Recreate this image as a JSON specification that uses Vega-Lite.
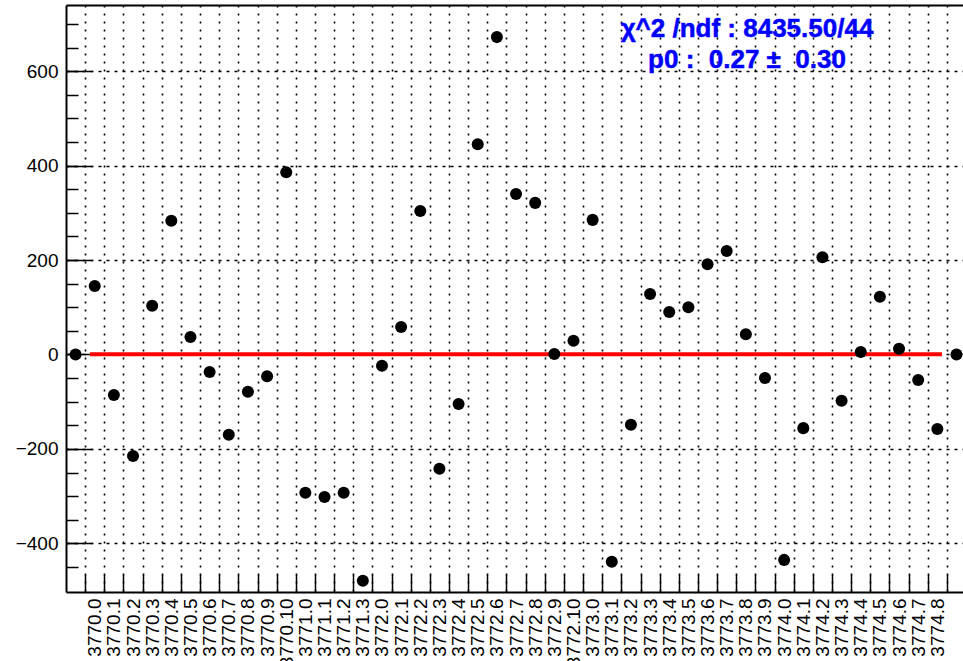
{
  "$schema": "https://vega.github.io/schema/vega-lite/v6.json",
  "width": 897,
  "height": 587,
  "autosize": {"type": "none"},
  "padding": {"left": 66, "top": 5, "right": 0, "bottom": 69},
  "background": "white",
  "config": {
    "view": {"stroke": null},
    "axis": {
      "labelFont": "Liberation Sans",
      "labelFontSize": 19,
      "labelColor": "black",
      "domainColor": "black",
      "tickColor": "black",
      "gridColor": "black",
      "gridOpacity": 1,
      "title": null
    }
  },
  "datasets": {
    "points": [
      {"i": 0, "run": "", "y": 0},
      {"i": 1, "run": "3770.0", "y": 145},
      {"i": 2, "run": "3770.1", "y": -86},
      {"i": 3, "run": "3770.2", "y": -215},
      {"i": 4, "run": "3770.3", "y": 103},
      {"i": 5, "run": "3770.4", "y": 283},
      {"i": 6, "run": "3770.5", "y": 37},
      {"i": 7, "run": "3770.6", "y": -37},
      {"i": 8, "run": "3770.7", "y": -170},
      {"i": 9, "run": "3770.8", "y": -79},
      {"i": 10, "run": "3770.9", "y": -46},
      {"i": 11, "run": "3770.10", "y": 386},
      {"i": 12, "run": "3771.0", "y": -293},
      {"i": 13, "run": "3771.1", "y": -302},
      {"i": 14, "run": "3771.2", "y": -293},
      {"i": 15, "run": "3771.3", "y": -479},
      {"i": 16, "run": "3772.0", "y": -24},
      {"i": 17, "run": "3772.1", "y": 58},
      {"i": 18, "run": "3772.2", "y": 304},
      {"i": 19, "run": "3772.3", "y": -242},
      {"i": 20, "run": "3772.4", "y": -105},
      {"i": 21, "run": "3772.5", "y": 445},
      {"i": 22, "run": "3772.6", "y": 672},
      {"i": 23, "run": "3772.7", "y": 340},
      {"i": 24, "run": "3772.8", "y": 321},
      {"i": 25, "run": "3772.9", "y": 1},
      {"i": 26, "run": "3772.10", "y": 29},
      {"i": 27, "run": "3773.0", "y": 285},
      {"i": 28, "run": "3773.1", "y": -439},
      {"i": 29, "run": "3773.2", "y": -149},
      {"i": 30, "run": "3773.3", "y": 128},
      {"i": 31, "run": "3773.4", "y": 90},
      {"i": 32, "run": "3773.5", "y": 100},
      {"i": 33, "run": "3773.6", "y": 191},
      {"i": 34, "run": "3773.7", "y": 219},
      {"i": 35, "run": "3773.8", "y": 43},
      {"i": 36, "run": "3773.9", "y": -50},
      {"i": 37, "run": "3774.0", "y": -435},
      {"i": 38, "run": "3774.1", "y": -156},
      {"i": 39, "run": "3774.2", "y": 206},
      {"i": 40, "run": "3774.3", "y": -98},
      {"i": 41, "run": "3774.4", "y": 5},
      {"i": 42, "run": "3774.5", "y": 122},
      {"i": 43, "run": "3774.6", "y": 12},
      {"i": 44, "run": "3774.7", "y": -54},
      {"i": 45, "run": "3774.8", "y": -158},
      {"i": 46, "run": "", "y": 0}
    ],
    "fit": [
      {"i": 0.75, "y": 0.27},
      {"i": 45.24, "y": 0.27}
    ],
    "stats": [
      {"name": "chi2", "text": "χ^2 /ndf : 8435.50/44"},
      {"name": "p0", "text": "p0 :\u00a0 0.27 ±\u00a0 0.30"}
    ]
  },
  "layer": [
    {
      "data": {"name": "fit"},
      "mark": {"type": "line", "color": "#ff0000", "strokeWidth": 4},
      "encoding": {
        "x": {
          "field": "i", "type": "quantitative",
          "scale": {"domain": [-0.5, 46.34], "nice": false, "zero": false},
          "axis": {
            "orient": "bottom",
            "values": [1,2,3,4,5,6,7,8,9,10,11,12,13,14,15,16,17,18,19,20,21,22,23,24,25,26,27,28,29,30,31,32,33,34,35,36,37,38,39,40,41,42,43,44,45],
            "labelExpr": "['3770.0','3770.1','3770.2','3770.3','3770.4','3770.5','3770.6','3770.7','3770.8','3770.9','3770.10','3771.0','3771.1','3771.2','3771.3','3772.0','3772.1','3772.2','3772.3','3772.4','3772.5','3772.6','3772.7','3772.8','3772.9','3772.10','3773.0','3773.1','3773.2','3773.3','3773.4','3773.5','3773.6','3773.7','3773.8','3773.9','3774.0','3774.1','3774.2','3774.3','3774.4','3774.5','3774.6','3774.7','3774.8'][datum.value - 1]",
            "labelAngle": 270,
            "labelAlign": "right",
            "labelBaseline": "middle",
            "labelPadding": 6,
            "labelOverlap": false,
            "labelBound": false,
            "labelFontSize": 19,
            "ticks": false,
            "grid": false,
            "domain": false
          }
        },
        "y": {
          "field": "y", "type": "quantitative",
          "scale": {"domain": [-503, 740], "nice": false, "zero": false},
          "axis": {
            "orient": "left",
            "values": [-400, -200, 0, 200, 400, 600],
            "labels": false,
            "ticks": true,
            "tickSize": -26,
            "tickWidth": 1.5,
            "grid": true,
            "gridDash": [3, 5],
            "gridWidth": 1.4,
            "domain": false,
            "zindex": 0
          }
        }
      }
    },
    {
      "data": {"name": "points"},
      "mark": {"type": "circle", "size": 145, "color": "black", "opacity": 1},
      "encoding": {
        "x": {
          "field": "i", "type": "quantitative",
          "axis": {
            "orient": "bottom",
            "values": [0.5,1.5,2.5,3.5,4.5,5.5,6.5,7.5,8.5,9.5,10.5,11.5,12.5,13.5,14.5,15.5,16.5,17.5,18.5,19.5,20.5,21.5,22.5,23.5,24.5,25.5,26.5,27.5,28.5,29.5,30.5,31.5,32.5,33.5,34.5,35.5,36.5,37.5,38.5,39.5,40.5,41.5,42.5,43.5,44.5,45.5],
            "labels": false,
            "ticks": true,
            "tickSize": -18,
            "tickWidth": 1.5,
            "grid": true,
            "gridDash": [2, 6],
            "gridWidth": 1.6,
            "domain": true,
            "domainWidth": 2,
            "zindex": 0
          }
        },
        "y": {
          "field": "y", "type": "quantitative",
          "axis": {
            "orient": "left",
            "values": [-400, -200, 0, 200, 400, 600],
            "ticks": false,
            "grid": false,
            "domain": true,
            "domainWidth": 2,
            "labelPadding": 8,
            "labelFontSize": 19
          }
        }
      }
    },
    {
      "data": {"name": "stats"},
      "transform": [{"filter": "datum.name === 'chi2'"}],
      "mark": {"type": "text", "font": "Liberation Sans", "fontWeight": "bold", "fontSize": 26, "color": "#0000ff", "stroke": "#0000ff", "strokeWidth": 0.5, "align": "center", "baseline": "middle"},
      "encoding": {
        "x": {
          "datum": 35.06, "type": "quantitative",
          "axis": {"orient": "top", "labels": false, "ticks": false, "grid": false, "domain": true, "domainWidth": 2}
        },
        "y": {
          "datum": 690, "type": "quantitative",
          "axis": {
            "orient": "left",
            "values": [-450,-400,-350,-300,-250,-200,-150,-100,-50,0,50,100,150,200,250,300,350,400,450,500,550,600,650,700],
            "labels": false,
            "ticks": true,
            "tickSize": -12,
            "tickWidth": 1.5,
            "grid": false,
            "domain": false
          }
        },
        "text": {"field": "text"}
      }
    },
    {
      "data": {"name": "stats"},
      "transform": [{"filter": "datum.name === 'p0'"}],
      "mark": {"type": "text", "font": "Liberation Sans", "fontWeight": "bold", "fontSize": 26, "color": "#0000ff", "stroke": "#0000ff", "strokeWidth": 0.5, "align": "center", "baseline": "middle"},
      "encoding": {
        "x": {"datum": 35.06, "type": "quantitative", "axis": null},
        "y": {"datum": 623, "type": "quantitative", "axis": null},
        "text": {"field": "text"}
      }
    }
  ],
  "resolve": {"axis": {"x": "independent", "y": "independent"}}
}
